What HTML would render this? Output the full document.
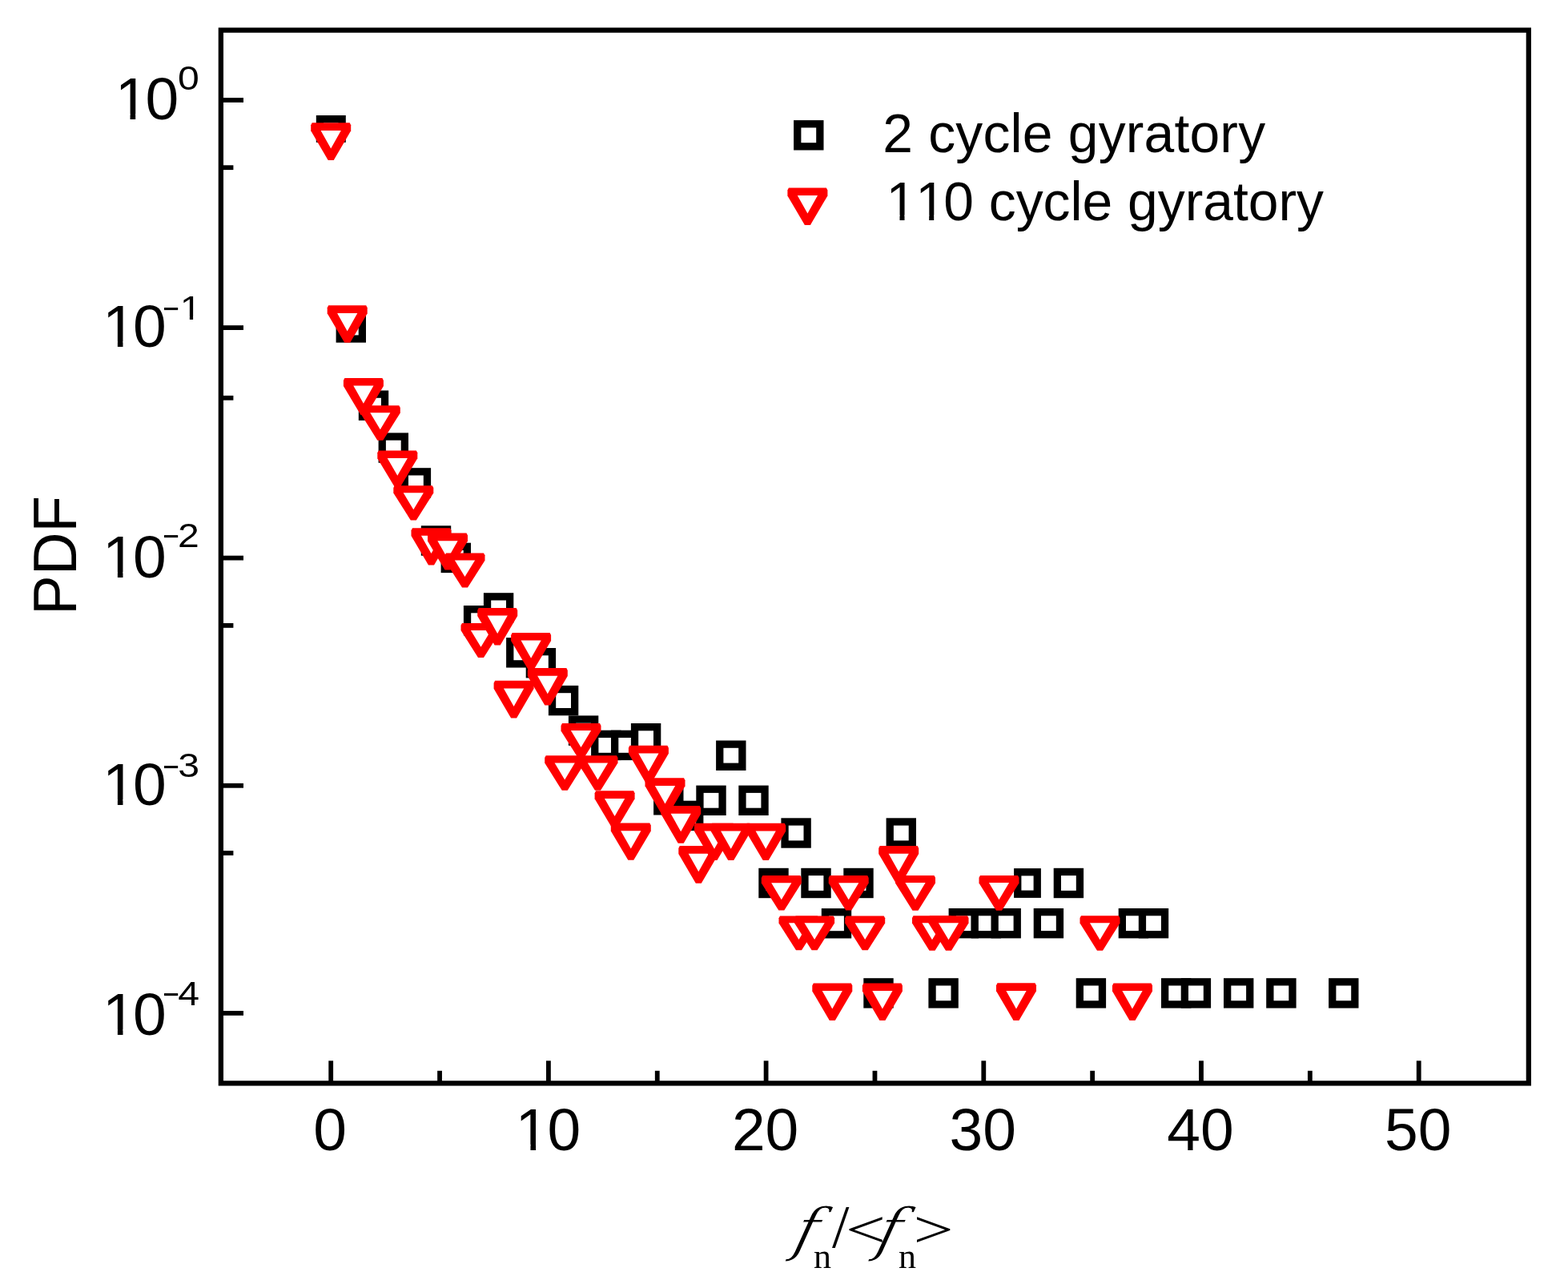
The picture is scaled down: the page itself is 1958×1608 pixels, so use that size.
<!DOCTYPE html>
<html><head><meta charset="utf-8"><title>PDF plot</title>
<style>
html,body{margin:0;padding:0;background:#fff;}
body{width:1958px;height:1608px;overflow:hidden;}
svg{display:block;}
.tk{font-family:"Liberation Sans",Arial,sans-serif;font-size:75px;fill:#000;}
.sp{font-family:"Liberation Sans",Arial,sans-serif;font-size:43px;fill:#000;}
.lg{font-family:"Liberation Sans",Arial,sans-serif;font-size:67.8px;fill:#000;}
.ser{font-family:"Liberation Serif","Times New Roman",serif;fill:#000;}
</style></head>
<body>
<svg width="1958" height="1608" viewBox="0 0 1958 1608">
<rect x="0" y="0" width="1958" height="1608" fill="#fff"/>
<rect x="275.85" y="37.65" width="1633" height="1314.75" fill="none" stroke="#000" stroke-width="6.3"/>
<rect x="278" y="122.10" width="26" height="5.8" fill="#000"/>
<rect x="278" y="406.20" width="26" height="5.8" fill="#000"/>
<rect x="278" y="693.70" width="26" height="5.8" fill="#000"/>
<rect x="278" y="977.90" width="26" height="5.8" fill="#000"/>
<rect x="278" y="1262.00" width="26" height="5.8" fill="#000"/>
<rect x="278" y="206.30" width="13.4" height="5.8" fill="#000"/>
<rect x="278" y="493.90" width="13.4" height="5.8" fill="#000"/>
<rect x="278" y="778.00" width="13.4" height="5.8" fill="#000"/>
<rect x="278" y="1062.10" width="13.4" height="5.8" fill="#000"/>
<rect x="410.30" y="1324.3" width="5.8" height="26" fill="#000"/>
<rect x="682.00" y="1324.3" width="5.8" height="26" fill="#000"/>
<rect x="953.70" y="1324.3" width="5.8" height="26" fill="#000"/>
<rect x="1225.40" y="1324.3" width="5.8" height="26" fill="#000"/>
<rect x="1497.10" y="1324.3" width="5.8" height="26" fill="#000"/>
<rect x="1768.80" y="1324.3" width="5.8" height="26" fill="#000"/>
<rect x="546.15" y="1336.8" width="5.8" height="13.5" fill="#000"/>
<rect x="817.85" y="1336.8" width="5.8" height="13.5" fill="#000"/>
<rect x="1089.55" y="1336.8" width="5.8" height="13.5" fill="#000"/>
<rect x="1361.25" y="1336.8" width="5.8" height="13.5" fill="#000"/>
<rect x="1632.95" y="1336.8" width="5.8" height="13.5" fill="#000"/>
<rect x="394.8" y="144.0" width="37.0" height="33.8" fill="#000"/><rect x="404.1" y="153.3" width="18.4" height="15.2" fill="#fff"/>
<rect x="419.6" y="390.3" width="37.4" height="37.4" fill="#000"/><rect x="428.9" y="399.6" width="18.8" height="18.8" fill="#fff"/>
<rect x="447.8" y="487.5" width="37.4" height="37.4" fill="#000"/><rect x="457.1" y="496.8" width="18.8" height="18.8" fill="#fff"/>
<rect x="472.6" y="540.4" width="37.4" height="37.4" fill="#000"/><rect x="481.9" y="549.7" width="18.8" height="18.8" fill="#fff"/>
<rect x="500.7" y="584.2" width="37.4" height="37.4" fill="#000"/><rect x="510.0" y="593.5" width="18.8" height="18.8" fill="#fff"/>
<rect x="525.8" y="656.3" width="37.4" height="37.4" fill="#000"/><rect x="535.1" y="665.6" width="18.8" height="18.8" fill="#fff"/>
<rect x="550.6" y="677.7" width="37.4" height="37.4" fill="#000"/><rect x="559.9" y="687.0" width="18.8" height="18.8" fill="#fff"/>
<rect x="578.9" y="756.0" width="37.4" height="37.4" fill="#000"/><rect x="588.2" y="765.3" width="18.8" height="18.8" fill="#fff"/>
<rect x="603.9" y="740.2" width="37.4" height="37.4" fill="#000"/><rect x="613.2" y="749.5" width="18.8" height="18.8" fill="#fff"/>
<rect x="632.1" y="796.1" width="37.4" height="37.4" fill="#000"/><rect x="641.4" y="805.4" width="18.8" height="18.8" fill="#fff"/>
<rect x="656.7" y="809.0" width="37.4" height="37.4" fill="#000"/><rect x="666.0" y="818.3" width="18.8" height="18.8" fill="#fff"/>
<rect x="684.9" y="855.9" width="37.4" height="37.4" fill="#000"/><rect x="694.2" y="865.2" width="18.8" height="18.8" fill="#fff"/>
<rect x="709.9" y="893.4" width="37.4" height="37.4" fill="#000"/><rect x="719.2" y="902.7" width="18.8" height="18.8" fill="#fff"/>
<rect x="738.1" y="911.7" width="37.4" height="37.4" fill="#000"/><rect x="747.4" y="921.0" width="18.8" height="18.8" fill="#fff"/>
<rect x="763.0" y="911.7" width="37.4" height="37.4" fill="#000"/><rect x="772.3" y="921.0" width="18.8" height="18.8" fill="#fff"/>
<rect x="787.9" y="903.0" width="37.4" height="37.4" fill="#000"/><rect x="797.2" y="912.3" width="18.8" height="18.8" fill="#fff"/>
<rect x="816.1" y="980.1" width="37.4" height="37.4" fill="#000"/><rect x="825.4" y="989.4" width="18.8" height="18.8" fill="#fff"/>
<rect x="841.0" y="999.7" width="37.4" height="37.4" fill="#000"/><rect x="850.3" y="1009.0" width="18.8" height="18.8" fill="#fff"/>
<rect x="869.3" y="980.6" width="37.4" height="37.4" fill="#000"/><rect x="878.6" y="989.9" width="18.8" height="18.8" fill="#fff"/>
<rect x="894.1" y="924.5" width="37.4" height="37.4" fill="#000"/><rect x="903.4" y="933.8" width="18.8" height="18.8" fill="#fff"/>
<rect x="922.3" y="980.6" width="37.4" height="37.4" fill="#000"/><rect x="931.6" y="989.9" width="18.8" height="18.8" fill="#fff"/>
<rect x="947.3" y="1083.8" width="37.4" height="37.4" fill="#000"/><rect x="956.6" y="1093.1" width="18.8" height="18.8" fill="#fff"/>
<rect x="975.4" y="1021.3" width="37.4" height="37.4" fill="#000"/><rect x="984.7" y="1030.6" width="18.8" height="18.8" fill="#fff"/>
<rect x="1000.3" y="1083.8" width="37.4" height="37.4" fill="#000"/><rect x="1009.6" y="1093.1" width="18.8" height="18.8" fill="#fff"/>
<rect x="1025.8" y="1134.1" width="37.4" height="37.4" fill="#000"/><rect x="1035.1" y="1143.4" width="18.8" height="18.8" fill="#fff"/>
<rect x="1053.3" y="1083.8" width="37.4" height="37.4" fill="#000"/><rect x="1062.6" y="1093.1" width="18.8" height="18.8" fill="#fff"/>
<rect x="1078.3" y="1221.2" width="37.4" height="37.4" fill="#000"/><rect x="1087.6" y="1230.5" width="18.8" height="18.8" fill="#fff"/>
<rect x="1106.6" y="1021.3" width="37.4" height="37.4" fill="#000"/><rect x="1115.9" y="1030.6" width="18.8" height="18.8" fill="#fff"/>
<rect x="1159.4" y="1221.2" width="37.4" height="37.4" fill="#000"/><rect x="1168.7" y="1230.5" width="18.8" height="18.8" fill="#fff"/>
<rect x="1184.6" y="1134.0" width="37.4" height="37.4" fill="#000"/><rect x="1193.9" y="1143.3" width="18.8" height="18.8" fill="#fff"/>
<rect x="1212.6" y="1134.0" width="37.4" height="37.4" fill="#000"/><rect x="1221.9" y="1143.3" width="18.8" height="18.8" fill="#fff"/>
<rect x="1237.5" y="1134.0" width="37.4" height="37.4" fill="#000"/><rect x="1246.8" y="1143.3" width="18.8" height="18.8" fill="#fff"/>
<rect x="1266.1" y="1084.1" width="33.8" height="36.8" fill="#000"/><rect x="1275.4" y="1093.4" width="15.2" height="18.2" fill="#fff"/>
<rect x="1290.7" y="1134.0" width="37.4" height="37.4" fill="#000"/><rect x="1300.0" y="1143.3" width="18.8" height="18.8" fill="#fff"/>
<rect x="1315.7" y="1083.8" width="37.4" height="37.4" fill="#000"/><rect x="1325.0" y="1093.1" width="18.8" height="18.8" fill="#fff"/>
<rect x="1343.7" y="1221.2" width="37.4" height="37.4" fill="#000"/><rect x="1353.0" y="1230.5" width="18.8" height="18.8" fill="#fff"/>
<rect x="1396.7" y="1134.0" width="37.4" height="37.4" fill="#000"/><rect x="1406.0" y="1143.3" width="18.8" height="18.8" fill="#fff"/>
<rect x="1421.8" y="1134.0" width="37.4" height="37.4" fill="#000"/><rect x="1431.1" y="1143.3" width="18.8" height="18.8" fill="#fff"/>
<rect x="1450.0" y="1221.2" width="37.4" height="37.4" fill="#000"/><rect x="1459.3" y="1230.5" width="18.8" height="18.8" fill="#fff"/>
<rect x="1474.7" y="1221.2" width="37.4" height="37.4" fill="#000"/><rect x="1484.0" y="1230.5" width="18.8" height="18.8" fill="#fff"/>
<rect x="1528.0" y="1221.2" width="37.4" height="37.4" fill="#000"/><rect x="1537.3" y="1230.5" width="18.8" height="18.8" fill="#fff"/>
<rect x="1581.2" y="1221.2" width="37.4" height="37.4" fill="#000"/><rect x="1590.5" y="1230.5" width="18.8" height="18.8" fill="#fff"/>
<rect x="1659.1" y="1221.2" width="37.4" height="37.4" fill="#000"/><rect x="1668.4" y="1230.5" width="18.8" height="18.8" fill="#fff"/>
<polygon points="389.7,153.2 436.7,153.2 438.2,156.2 438.2,163.2 416.7,200.0 409.7,200.0 388.2,163.2 388.2,156.2" fill="#f00"/><polygon points="400.6,162.9 425.8,162.9 413.2,185.5" fill="#fff"/>
<polygon points="410.2,381.2 457.2,381.2 458.7,384.2 458.7,391.2 437.2,427.8 430.2,427.8 408.7,391.2 408.7,384.2" fill="#f00"/><polygon points="421.1,390.9 446.3,390.9 433.7,413.4" fill="#fff"/>
<polygon points="430.4,472.0 477.4,472.0 478.9,475.0 478.9,481.9 457.4,518.0 450.4,518.0 428.9,481.9 428.9,475.0" fill="#f00"/><polygon points="441.3,481.6 466.5,481.6 453.9,503.8" fill="#fff"/>
<polygon points="451.3,506.2 498.3,506.2 499.8,509.0 499.8,515.5 478.3,549.7 471.3,549.7 449.8,515.5 449.8,509.0" fill="#f00"/><polygon points="462.2,515.3 487.4,515.3 474.8,536.3" fill="#fff"/>
<polygon points="472.8,562.4 519.8,562.4 521.3,565.3 521.3,572.2 499.8,607.9 492.8,607.9 471.3,572.2 471.3,565.3" fill="#f00"/><polygon points="483.7,571.9 508.9,571.9 496.3,593.8" fill="#fff"/>
<polygon points="492.8,606.3 539.8,606.3 541.3,609.1 541.3,615.6 519.8,649.5 512.8,649.5 491.3,615.6 491.3,609.1" fill="#f00"/><polygon points="503.7,615.3 528.9,615.3 516.3,636.2" fill="#fff"/>
<polygon points="515.0,659.2 562.0,659.2 563.5,662.2 563.5,669.1 542.0,705.4 535.0,705.4 513.5,669.1 513.5,662.2" fill="#f00"/><polygon points="525.9,668.8 551.1,668.8 538.5,691.1" fill="#fff"/>
<polygon points="535.5,665.6 582.5,665.6 584.0,668.6 584.0,675.5 562.5,711.6 555.5,711.6 534.0,675.5 534.0,668.6" fill="#f00"/><polygon points="546.4,675.2 571.6,675.2 559.0,697.4" fill="#fff"/>
<polygon points="557.0,690.5 604.0,690.5 605.5,693.3 605.5,699.7 584.0,733.4 577.0,733.4 555.5,699.7 555.5,693.3" fill="#f00"/><polygon points="567.9,699.4 593.1,699.4 580.5,720.1" fill="#fff"/>
<polygon points="577.0,777.9 624.0,777.9 625.5,780.7 625.5,787.1 604.0,821.0 597.0,821.0 575.5,787.1 575.5,780.7" fill="#f00"/><polygon points="587.9,786.9 613.1,786.9 600.5,807.7" fill="#fff"/>
<polygon points="597.7,758.9 644.7,758.9 646.2,761.9 646.2,768.9 624.7,805.5 617.7,805.5 596.2,768.9 596.2,761.9" fill="#f00"/><polygon points="608.6,768.6 633.8,768.6 621.2,791.1" fill="#fff"/>
<polygon points="618.1,849.7 665.1,849.7 666.6,852.7 666.6,859.8 645.1,896.6 638.1,896.6 616.6,859.8 616.6,852.7" fill="#f00"/><polygon points="629.0,859.5 654.2,859.5 641.6,882.1" fill="#fff"/>
<polygon points="639.6,790.0 686.6,790.0 688.1,793.0 688.1,799.9 666.6,836.0 659.6,836.0 638.1,799.9 638.1,793.0" fill="#f00"/><polygon points="650.5,799.6 675.7,799.6 663.1,821.8" fill="#fff"/>
<polygon points="660.3,834.1 707.3,834.1 708.8,837.1 708.8,844.1 687.3,880.5 680.3,880.5 658.8,844.1 658.8,837.1" fill="#f00"/><polygon points="671.2,843.8 696.4,843.8 683.8,866.2" fill="#fff"/>
<polygon points="681.7,943.3 728.7,943.3 730.2,946.1 730.2,952.6 708.7,986.8 701.7,986.8 680.2,952.6 680.2,946.1" fill="#f00"/><polygon points="692.6,952.4 717.8,952.4 705.2,973.4" fill="#fff"/>
<polygon points="702.0,903.1 749.0,903.1 750.5,905.9 750.5,912.4 729.0,946.5 722.0,946.5 700.5,912.4 700.5,905.9" fill="#f00"/><polygon points="712.9,912.1 738.1,912.1 725.5,933.1" fill="#fff"/>
<polygon points="723.0,943.3 770.0,943.3 771.5,946.1 771.5,952.6 750.0,986.8 743.0,986.8 721.5,952.6 721.5,946.1" fill="#f00"/><polygon points="733.9,952.4 759.1,952.4 746.5,973.4" fill="#fff"/>
<polygon points="744.1,987.3 791.1,987.3 792.6,990.3 792.6,997.2 771.1,1033.3 764.1,1033.3 742.6,997.2 742.6,990.3" fill="#f00"/><polygon points="755.0,996.9 780.2,996.9 767.6,1019.1" fill="#fff"/>
<polygon points="764.3,1027.6 811.3,1027.6 812.8,1030.6 812.8,1037.5 791.3,1073.8 784.3,1073.8 762.8,1037.5 762.8,1030.6" fill="#f00"/><polygon points="775.2,1037.2 800.4,1037.2 787.8,1059.5" fill="#fff"/>
<polygon points="786.4,930.8 833.4,930.8 834.9,933.8 834.9,940.8 813.4,977.4 806.4,977.4 784.9,940.8 784.9,933.8" fill="#f00"/><polygon points="797.3,940.5 822.5,940.5 809.9,963.0" fill="#fff"/>
<polygon points="807.0,971.3 854.0,971.3 855.5,974.3 855.5,981.3 834.0,1017.9 827.0,1017.9 805.5,981.3 805.5,974.3" fill="#f00"/><polygon points="817.9,981.0 843.1,981.0 830.5,1003.5" fill="#fff"/>
<polygon points="826.7,1006.0 873.7,1006.0 875.2,1009.0 875.2,1016.0 853.7,1052.7 846.7,1052.7 825.2,1016.0 825.2,1009.0" fill="#f00"/><polygon points="837.6,1015.7 862.8,1015.7 850.2,1038.3" fill="#fff"/>
<polygon points="848.8,1056.0 895.8,1056.0 897.3,1059.0 897.3,1066.0 875.8,1102.7 868.8,1102.7 847.3,1066.0 847.3,1059.0" fill="#f00"/><polygon points="859.7,1065.7 884.9,1065.7 872.3,1088.3" fill="#fff"/>
<polygon points="868.5,1027.7 915.5,1027.7 917.0,1030.7 917.0,1037.7 895.5,1074.1 888.5,1074.1 867.0,1037.7 867.0,1030.7" fill="#f00"/><polygon points="879.4,1037.4 904.6,1037.4 892.0,1059.8" fill="#fff"/>
<polygon points="889.2,1027.7 936.2,1027.7 937.7,1030.7 937.7,1037.7 916.2,1074.1 909.2,1074.1 887.7,1037.7 887.7,1030.7" fill="#f00"/><polygon points="900.1,1037.4 925.3,1037.4 912.7,1059.8" fill="#fff"/>
<polygon points="932.7,1027.7 979.7,1027.7 981.2,1030.7 981.2,1037.7 959.7,1074.1 952.7,1074.1 931.2,1037.7 931.2,1030.7" fill="#f00"/><polygon points="943.6,1037.4 968.8,1037.4 956.2,1059.8" fill="#fff"/>
<polygon points="952.3,1093.1 999.3,1093.1 1000.8,1095.9 1000.8,1102.4 979.3,1136.6 972.3,1136.6 950.8,1102.4 950.8,1095.9" fill="#f00"/><polygon points="963.2,1102.2 988.4,1102.2 975.8,1123.2" fill="#fff"/>
<polygon points="974.0,1143.4 1021.0,1143.4 1022.5,1146.2 1022.5,1152.6 1001.0,1186.3 994.0,1186.3 972.5,1152.6 972.5,1146.2" fill="#f00"/><polygon points="984.9,1152.3 1010.1,1152.3 997.5,1173.0" fill="#fff"/>
<polygon points="993.6,1143.4 1040.6,1143.4 1042.1,1146.2 1042.1,1152.6 1020.6,1186.3 1013.6,1186.3 992.1,1152.6 992.1,1146.2" fill="#f00"/><polygon points="1004.5,1152.3 1029.7,1152.3 1017.1,1173.0" fill="#fff"/>
<polygon points="1015.8,1227.4 1062.8,1227.4 1064.3,1230.4 1064.3,1237.4 1042.8,1274.0 1035.8,1274.0 1014.3,1237.4 1014.3,1230.4" fill="#f00"/><polygon points="1026.7,1237.1 1051.9,1237.1 1039.3,1259.6" fill="#fff"/>
<polygon points="1036.2,1093.1 1083.2,1093.1 1084.7,1095.9 1084.7,1102.4 1063.2,1136.6 1056.2,1136.6 1034.7,1102.4 1034.7,1095.9" fill="#f00"/><polygon points="1047.1,1102.2 1072.3,1102.2 1059.7,1123.2" fill="#fff"/>
<polygon points="1056.7,1143.4 1103.7,1143.4 1105.2,1146.2 1105.2,1152.6 1083.7,1186.3 1076.7,1186.3 1055.2,1152.6 1055.2,1146.2" fill="#f00"/><polygon points="1067.6,1152.3 1092.8,1152.3 1080.2,1173.0" fill="#fff"/>
<polygon points="1078.4,1227.4 1125.4,1227.4 1126.9,1230.4 1126.9,1237.4 1105.4,1274.0 1098.4,1274.0 1076.9,1237.4 1076.9,1230.4" fill="#f00"/><polygon points="1089.3,1237.1 1114.5,1237.1 1101.9,1259.6" fill="#fff"/>
<polygon points="1098.7,1056.0 1145.7,1056.0 1147.2,1059.0 1147.2,1066.0 1125.7,1102.6 1118.7,1102.6 1097.2,1066.0 1097.2,1059.0" fill="#f00"/><polygon points="1109.6,1065.7 1134.8,1065.7 1122.2,1088.2" fill="#fff"/>
<polygon points="1119.5,1093.0 1166.5,1093.0 1168.0,1095.8 1168.0,1102.4 1146.5,1136.8 1139.5,1136.8 1118.0,1102.4 1118.0,1095.8" fill="#f00"/><polygon points="1130.4,1102.1 1155.6,1102.1 1143.0,1123.3" fill="#fff"/>
<polygon points="1140.5,1143.2 1187.5,1143.2 1189.0,1146.0 1189.0,1152.5 1167.5,1186.7 1160.5,1186.7 1139.0,1152.5 1139.0,1146.0" fill="#f00"/><polygon points="1151.4,1152.3 1176.6,1152.3 1164.0,1173.3" fill="#fff"/>
<polygon points="1161.0,1143.2 1208.0,1143.2 1209.5,1146.0 1209.5,1152.5 1188.0,1186.7 1181.0,1186.7 1159.5,1152.5 1159.5,1146.0" fill="#f00"/><polygon points="1171.9,1152.3 1197.1,1152.3 1184.5,1173.3" fill="#fff"/>
<polygon points="1224.0,1093.0 1271.0,1093.0 1272.5,1095.8 1272.5,1102.4 1251.0,1136.8 1244.0,1136.8 1222.5,1102.4 1222.5,1095.8" fill="#f00"/><polygon points="1234.9,1102.1 1260.1,1102.1 1247.5,1123.3" fill="#fff"/>
<polygon points="1245.5,1227.3 1292.5,1227.3 1294.0,1230.3 1294.0,1237.3 1272.5,1273.9 1265.5,1273.9 1244.0,1237.3 1244.0,1230.3" fill="#f00"/><polygon points="1256.4,1237.0 1281.6,1237.0 1269.0,1259.5" fill="#fff"/>
<polygon points="1350.0,1143.2 1397.0,1143.2 1398.5,1146.0 1398.5,1152.5 1377.0,1186.7 1370.0,1186.7 1348.5,1152.5 1348.5,1146.0" fill="#f00"/><polygon points="1360.9,1152.3 1386.1,1152.3 1373.5,1173.3" fill="#fff"/>
<polygon points="1390.5,1227.4 1437.5,1227.4 1439.0,1230.4 1439.0,1237.4 1417.5,1274.0 1410.5,1274.0 1389.0,1237.4 1389.0,1230.4" fill="#f00"/><polygon points="1401.4,1237.1 1426.6,1237.1 1414.0,1259.6" fill="#fff"/>
<rect x="991.1" y="150.1" width="37.4" height="37.4" fill="#000"/><rect x="1000.4" y="159.4" width="18.8" height="18.8" fill="#fff"/>
<polygon points="984.9,234.4 1031.9,234.4 1033.4,237.4 1033.4,244.4 1011.9,280.9 1004.9,280.9 983.4,244.4 983.4,237.4" fill="#f00"/><polygon points="995.8,244.1 1021.0,244.1 1008.4,266.5" fill="#fff"/>
<text x="143.7 181.5" y="149.2" class="tk">10</text>
<text x="0" y="0" class="sp" transform="translate(221.9,111.6) scale(1.12,1)">0</text>
<text x="128.0 166.0" y="433.1" class="tk">10</text>
<text x="0" y="0" class="sp" transform="translate(203.16,400.0) scale(0.823,1)">&#8722;</text>
<text x="0" y="0" class="sp" transform="translate(224.74,399.2) scale(1.12,1)">1</text>
<text x="128.0 166.0" y="721.0" class="tk">10</text>
<text x="0" y="0" class="sp" transform="translate(203.16,684.3) scale(0.823,1)">&#8722;</text>
<text x="0" y="0" class="sp" transform="translate(222.1,683.1) scale(1.12,1)">2</text>
<text x="128.0 166.0" y="1004.9" class="tk">10</text>
<text x="0" y="0" class="sp" transform="translate(203.16,971.6) scale(0.823,1)">&#8722;</text>
<text x="0" y="0" class="sp" transform="translate(222.2,970.2) scale(1.12,1)">3</text>
<text x="128.0 166.0" y="1292.1" class="tk">10</text>
<text x="0" y="0" class="sp" transform="translate(203.16,1255.9) scale(0.823,1)">&#8722;</text>
<text x="0" y="0" class="sp" transform="translate(222.2,1254.5) scale(1.12,1)">4</text>
<text x="412.2" y="1435.6" class="tk" text-anchor="middle">0</text>
<text x="643.6 683.6" y="1435.6" class="tk">10</text>
<text x="955.6" y="1435.6" class="tk" text-anchor="middle">20</text>
<text x="1227.3" y="1435.6" class="tk" text-anchor="middle">30</text>
<text x="1499.0" y="1435.6" class="tk" text-anchor="middle">40</text>
<text x="1770.7" y="1435.6" class="tk" text-anchor="middle">50</text>
<text transform="translate(95,693.4) rotate(-90) scale(0.99,1.01)" class="tk" text-anchor="middle">PDF</text>
<text x="1102.3" y="190.4" class="lg" letter-spacing="0.2">2 cycle gyratory</text>
<text x="1106.46 1143.16 1178.2" y="274.8" class="lg">110 cycle gyratory</text>
<g class="ser">
<text x="0" y="0" font-family="DejaVu Serif" font-style="italic" font-size="72.5" stroke="#fff" stroke-width="1.2" transform="translate(988.2,1559.8) skewX(-14) scale(1.05,1)">f</text>
<text x="0" y="0" font-family="DejaVu Serif" font-style="italic" font-size="72.5" stroke="#fff" stroke-width="1.2" transform="translate(1091.7,1559.8) skewX(-14) scale(1.05,1)">f</text>
<text x="1016" y="1583" font-size="44">n</text>
<text x="1122" y="1583" font-size="44">n</text>
<text x="1039" y="1556.6" font-size="77">/</text>
<text x="0" y="0" font-size="70" transform="translate(1056,1557.2) scale(1.268,0.951)">&lt;</text>
<text x="0" y="0" font-size="70" transform="translate(1140.5,1557.2) scale(1.268,0.951)">&gt;</text>
</g>
<rect x="148.21" y="142.40" width="14.35" height="8.00" fill="#fff"/><rect x="169.19" y="142.40" width="13.76" height="8.00" fill="#fff"/>
<rect x="132.51" y="426.30" width="14.35" height="8.00" fill="#fff"/><rect x="153.49" y="426.30" width="13.76" height="8.00" fill="#fff"/>
<rect x="227.41" y="394.99" width="9.44" height="5.21" fill="#fff"/><rect x="241.11" y="394.99" width="9.07" height="5.21" fill="#fff"/>
<rect x="132.51" y="714.20" width="14.35" height="8.00" fill="#fff"/><rect x="153.49" y="714.20" width="13.76" height="8.00" fill="#fff"/>
<rect x="132.51" y="998.10" width="14.35" height="8.00" fill="#fff"/><rect x="153.49" y="998.10" width="13.76" height="8.00" fill="#fff"/>
<rect x="132.51" y="1285.30" width="14.35" height="8.00" fill="#fff"/><rect x="153.49" y="1285.30" width="13.76" height="8.00" fill="#fff"/>
<rect x="648.11" y="1428.80" width="14.35" height="8.00" fill="#fff"/><rect x="669.09" y="1428.80" width="13.76" height="8.00" fill="#fff"/>
<rect x="1110.42" y="268.53" width="13.08" height="7.47" fill="#fff"/><rect x="1129.50" y="268.53" width="12.56" height="7.47" fill="#fff"/>
<rect x="1147.12" y="268.53" width="13.08" height="7.47" fill="#fff"/><rect x="1166.20" y="268.53" width="12.56" height="7.47" fill="#fff"/>
</svg>
</body></html>
